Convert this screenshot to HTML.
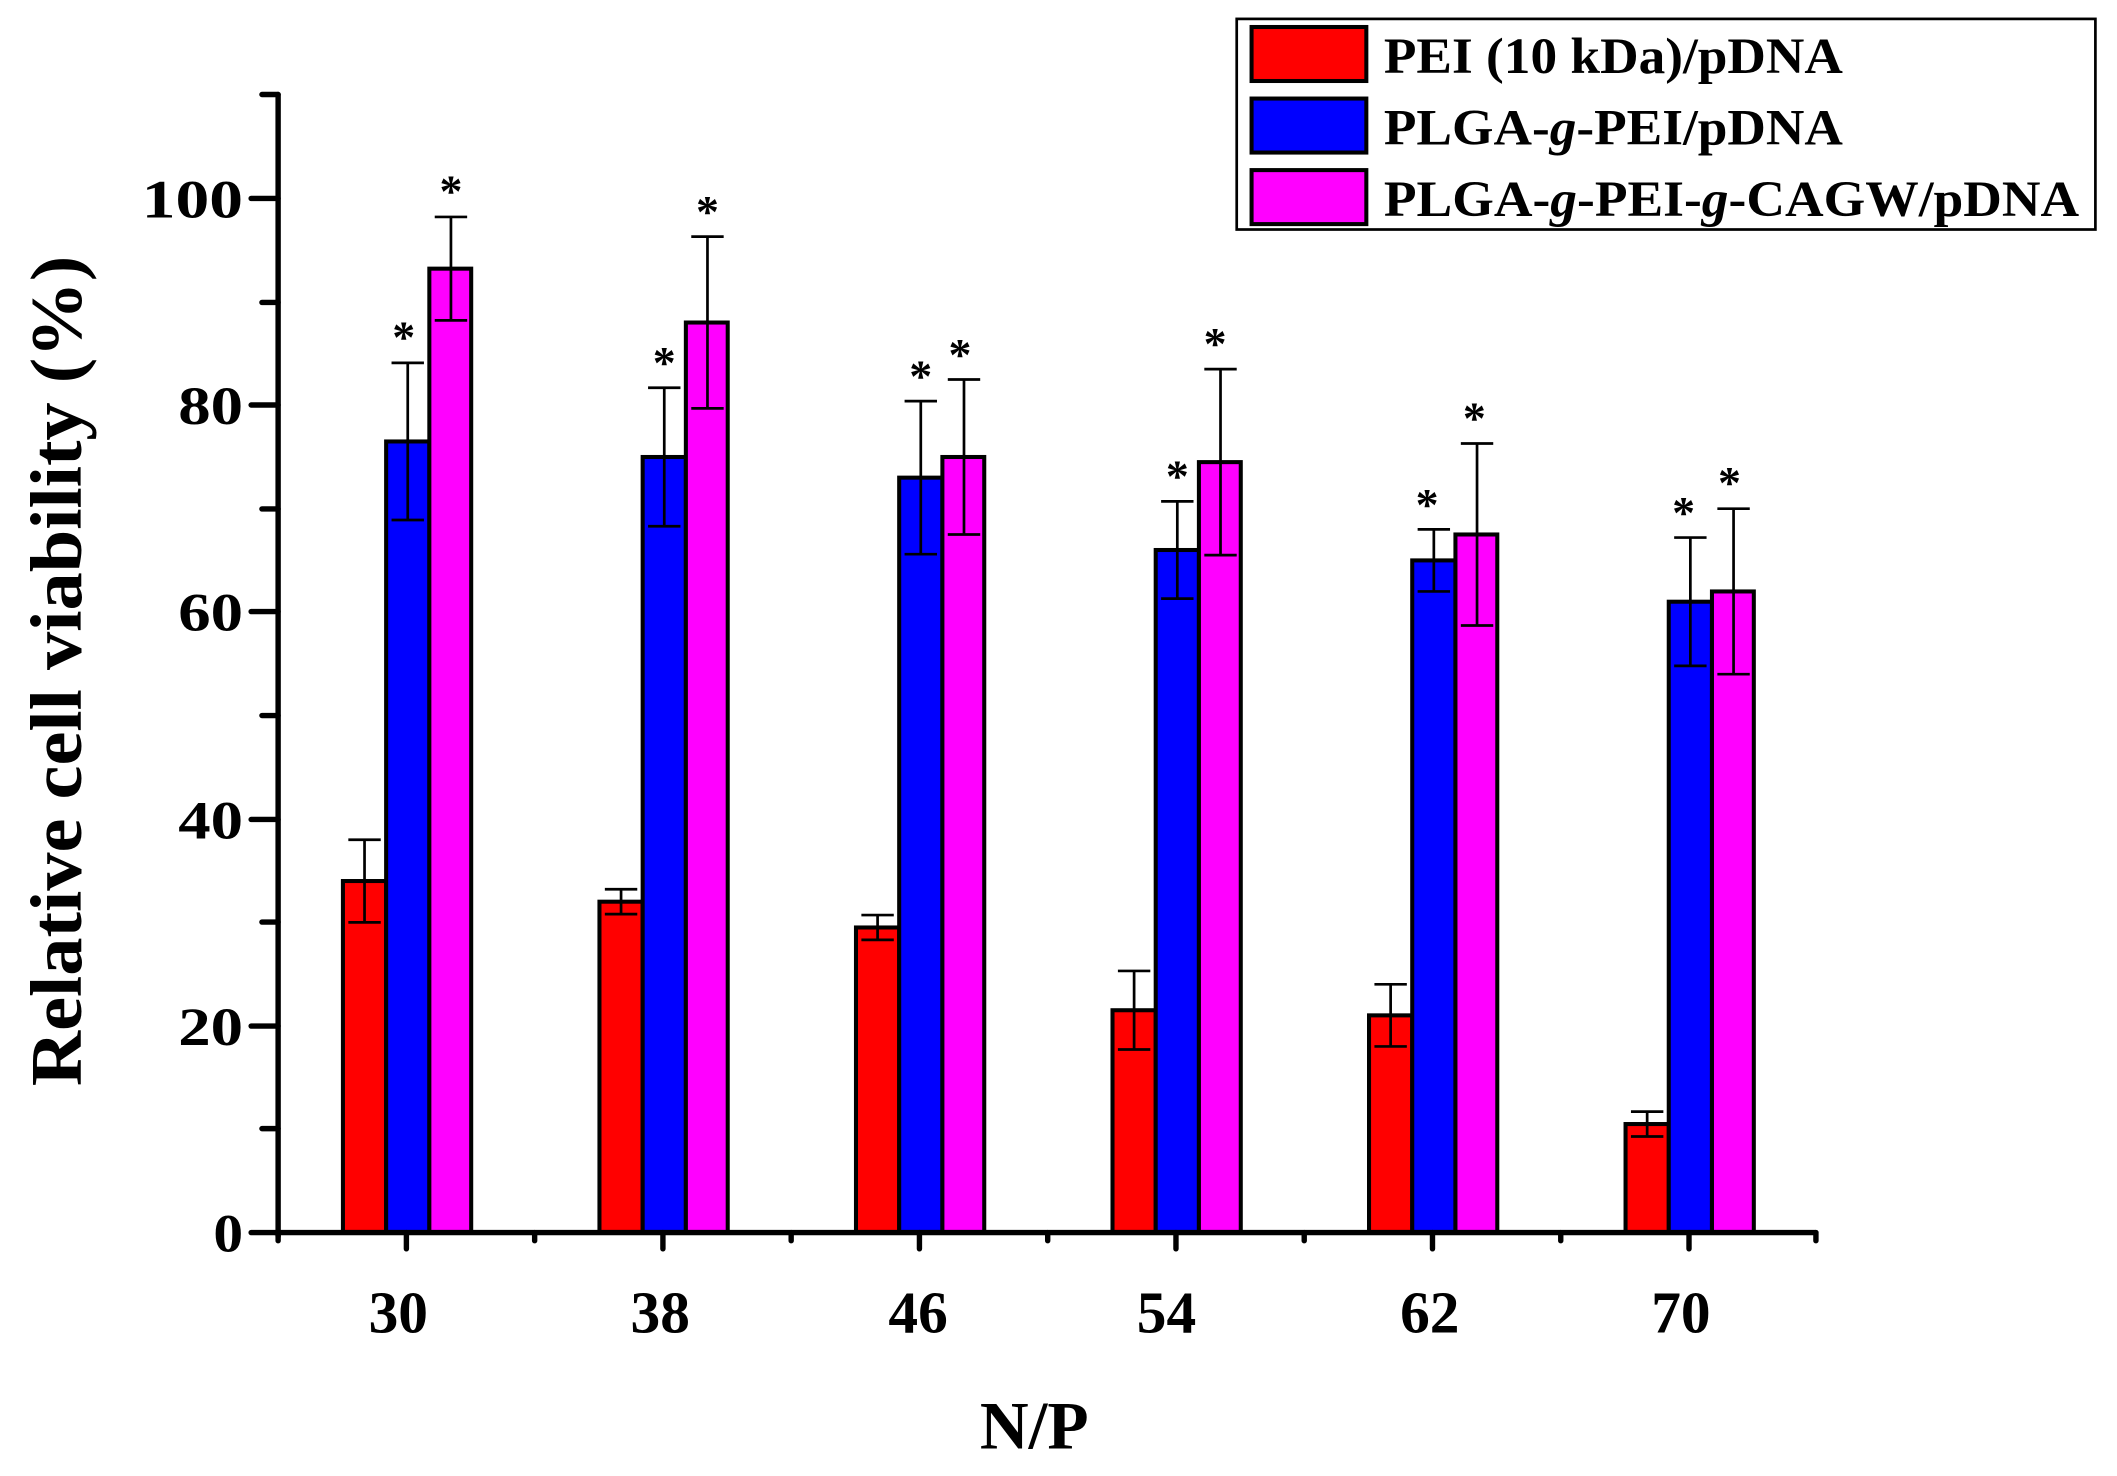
<!DOCTYPE html>
<html><head><meta charset="utf-8"><style>html,body{margin:0;padding:0;background:#fff}svg{display:block}svg text{font-family:"Liberation Serif","Times New Roman",serif;font-weight:bold}</style></head><body>
<svg width="2117" height="1476" viewBox="0 0 1568 1093.3" preserveAspectRatio="none" xmlns="http://www.w3.org/2000/svg">
<g stroke="#000" stroke-width="3">
<rect x="254" y="652.6" width="32" height="260.4" fill="#f00"/>
<rect x="286" y="327" width="32" height="586" fill="#00f"/>
<rect x="318" y="199" width="31" height="714" fill="#f0f"/>
<rect x="444" y="667.9" width="32" height="245.1" fill="#f00"/>
<rect x="476" y="338.5" width="32" height="574.5" fill="#00f"/>
<rect x="508" y="238.9" width="31" height="674.1" fill="#f0f"/>
<rect x="634" y="687" width="32" height="226" fill="#f00"/>
<rect x="666" y="353.8" width="32" height="559.2" fill="#00f"/>
<rect x="698" y="338.5" width="31" height="574.5" fill="#f0f"/>
<rect x="824" y="748.3" width="32" height="164.7" fill="#f00"/>
<rect x="856" y="407.4" width="32" height="505.6" fill="#00f"/>
<rect x="888" y="342.3" width="31" height="570.7" fill="#f0f"/>
<rect x="1014" y="752.1" width="32" height="160.9" fill="#f00"/>
<rect x="1046" y="415.1" width="32" height="497.9" fill="#00f"/>
<rect x="1078" y="395.9" width="31" height="517.1" fill="#f0f"/>
<rect x="1204" y="832.6" width="32" height="80.4" fill="#f00"/>
<rect x="1236" y="445.7" width="32" height="467.3" fill="#00f"/>
<rect x="1268" y="438.1" width="31" height="474.9" fill="#f0f"/>
</g>
<g stroke="#000" stroke-width="2" fill="none">
<path d="M270 622V683.2M258 622H282M258 683.2H282"/>
<path d="M302 268.8V385.2M290 268.8H314M290 385.2H314"/>
<path d="M334 160.7V237.3M322 160.7H346M322 237.3H346"/>
<path d="M460 658.7V677.1M448 658.7H472M448 677.1H472"/>
<path d="M492 287.2V389.8M480 287.2H504M480 389.8H504"/>
<path d="M524 175.3V302.5M512 175.3H536M512 302.5H536"/>
<path d="M650 677.8V696.2M638 677.8H662M638 696.2H662"/>
<path d="M682 297.1V410.5M670 297.1H694M670 410.5H694"/>
<path d="M714 281.1V395.9M702 281.1H726M702 395.9H726"/>
<path d="M840 719.2V777.4M828 719.2H852M828 777.4H852"/>
<path d="M872 371.4V443.4M860 371.4H884M860 443.4H884"/>
<path d="M904 273.4V411.2M892 273.4H916M892 411.2H916"/>
<path d="M1030 729.1V775.1M1018 729.1H1042M1018 775.1H1042"/>
<path d="M1062 392.1V438.1M1050 392.1H1074M1050 438.1H1074"/>
<path d="M1094 328.5V463.3M1082 328.5H1106M1082 463.3H1106"/>
<path d="M1220 823.4V841.8M1208 823.4H1232M1208 841.8H1232"/>
<path d="M1252 398.2V493.2M1240 398.2H1264M1240 493.2H1264"/>
<path d="M1284 376.8V499.4M1272 376.8H1296M1272 499.4H1296"/>
</g>
<g font-size="34" text-anchor="middle">
<text x="299" y="261">*</text><text x="334" y="153">*</text>
<text x="492" y="280">*</text><text x="524" y="168">*</text>
<text x="682" y="290">*</text><text x="711" y="274">*</text>
<text x="872" y="364">*</text><text x="900" y="266">*</text>
<text x="1057" y="385">*</text><text x="1092" y="321">*</text>
<text x="1247" y="391">*</text><text x="1281" y="369">*</text>
</g>
<g stroke="#000" stroke-width="4" stroke-linecap="round" fill="none">
<path d="M206 70V916M204 913H1345"/>
<path d="M186 913H206M186 760H206M186 607H206M186 453H206M186 300H206M186 147H206"/>
<path d="M194 836H206M194 683H206M194 530H206M194 377H206M194 224H206M194 70H206"/>
<path d="M301 913V925M491 913V925M681 913V925M871 913V925M1061 913V925M1251 913V925"/>
<path d="M206 913V919M396 913V919M586 913V919M776 913V919M966 913V919M1156 913V919M1345 913V919"/>
</g>
<g font-size="40" text-anchor="end">
<text x="180" y="927" textLength="22" lengthAdjust="spacingAndGlyphs">0</text>
<text x="180" y="774" textLength="48" lengthAdjust="spacingAndGlyphs">20</text>
<text x="180" y="621" textLength="48" lengthAdjust="spacingAndGlyphs">40</text>
<text x="180" y="467" textLength="48" lengthAdjust="spacingAndGlyphs">60</text>
<text x="180" y="314" textLength="48" lengthAdjust="spacingAndGlyphs">80</text>
<text x="180" y="161" textLength="75" lengthAdjust="spacingAndGlyphs">100</text>
</g>
<g font-size="44" text-anchor="middle">
<text x="295" y="987">30</text><text x="489" y="987">38</text><text x="680" y="987">46</text>
<text x="864" y="987">54</text><text x="1059" y="987">62</text><text x="1245" y="987">70</text>
</g>
<text x="766" y="1073" font-size="50" text-anchor="middle">N/P</text>
<text transform="translate(60,497) rotate(-90)" font-size="54" text-anchor="middle" textLength="615" lengthAdjust="spacingAndGlyphs">Relative cell viability (%)</text>
<rect x="916" y="14" width="636" height="156" fill="#fff" stroke="#000" stroke-width="2"/>
<g stroke="#000" stroke-width="3">
<rect x="927" y="20" width="85" height="40" fill="#f00"/>
<rect x="927" y="73" width="85" height="40" fill="#00f"/>
<rect x="927" y="126" width="85" height="40" fill="#f0f"/>
</g>
<g font-size="38">
<text x="1025" y="54" textLength="340" lengthAdjust="spacingAndGlyphs">PEI (10 kDa)/pDNA</text>
<text x="1025" y="107" textLength="340" lengthAdjust="spacingAndGlyphs">PLGA-<tspan font-style="italic">g</tspan>-PEI/pDNA</text>
<text x="1025" y="160" textLength="515" lengthAdjust="spacingAndGlyphs">PLGA-<tspan font-style="italic">g</tspan>-PEI-<tspan font-style="italic">g</tspan>-CAGW/pDNA</text>
</g>
</svg>
</body></html>
